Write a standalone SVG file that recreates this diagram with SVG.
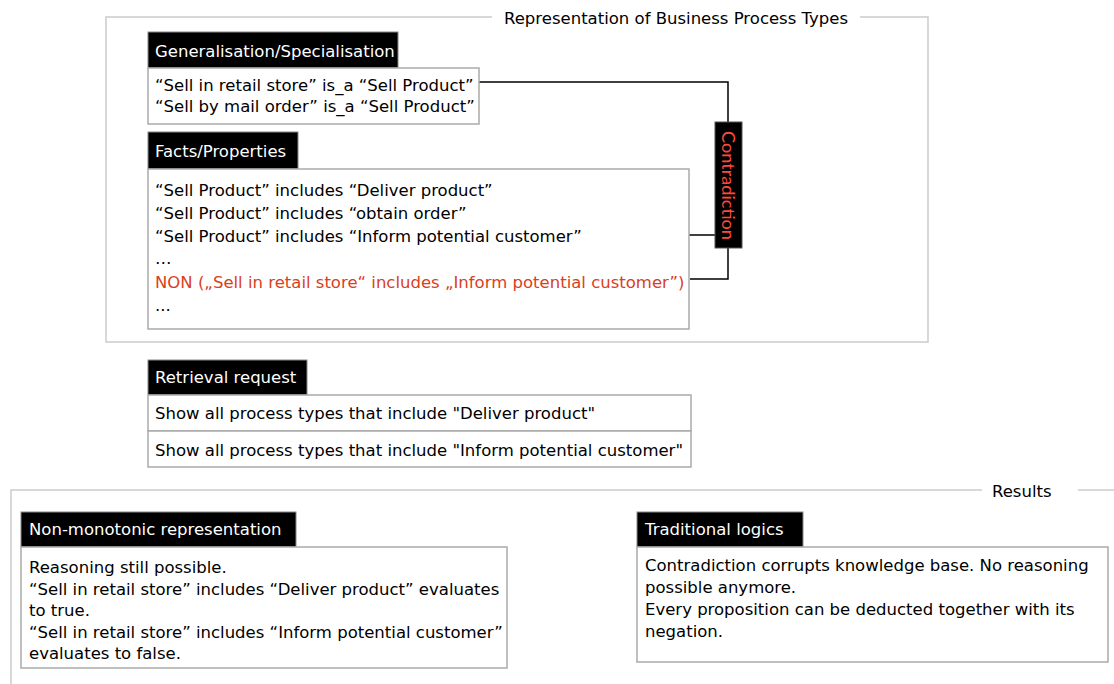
<svg xmlns="http://www.w3.org/2000/svg" width="1114" height="684" viewBox="0 0 1114 684">
<style>
text{font-family:"DejaVu Sans",Verdana,sans-serif;font-size:16.5px;fill:#000}
.frame{fill:none;stroke:#cccccc;stroke-width:1.5}
.hdr{fill:#000;stroke:#888;stroke-width:1}
.hdrt{fill:#fff}
.body{fill:#fff;stroke:#aaaaaa;stroke-width:1.5}
.con{fill:none;stroke:#000;stroke-width:1.5}
.red{fill:#d9401c}
</style>
<rect width="1114" height="684" fill="#fff"/>
<g id="frame-representation">
<polyline class="frame" points="492,17 106,17 106,342 928,342 928,17 860,17"/>
<text x="504" y="24">Representation of Business Process Types</text>
</g>
<g id="frame-results">
<polyline class="frame" points="982,490 11,490 11,684"/>
<line class="frame" x1="1078" y1="490" x2="1114" y2="490"/>
<text x="992" y="497">Results</text>
</g>
<g id="connectors">
<polyline class="con" points="479,82 728,82 728,122"/>
<line class="con" x1="591" y1="235" x2="715" y2="235"/>
<polyline class="con" points="690,279 728,279 728,248"/>
</g>
<g id="generalisation">
<rect class="hdr" x="148" y="32" width="250" height="36"/>
<text class="hdrt" x="155" y="57">Generalisation/Specialisation</text>
<rect class="body" x="148" y="68" width="331" height="56"/>
<text x="155" y="91">“Sell in retail store” is_a “Sell Product”</text>
<text x="155" y="112">“Sell by mail order” is_a “Sell Product”</text>
</g>
<g id="facts">
<rect class="hdr" x="148" y="132" width="150" height="37"/>
<text class="hdrt" x="155" y="157">Facts/Properties</text>
<rect class="body" x="148" y="169" width="541" height="160"/>
<text x="155" y="196">“Sell Product” includes “Deliver product”</text>
<text x="155" y="219">“Sell Product” includes “obtain order”</text>
<text x="155" y="242">“Sell Product” includes “Inform potential customer”</text>
<text x="155" y="264">…</text>
<text class="red" x="155" y="288">NON („Sell in retail store“ includes „Inform potential customer”)</text>
<text x="155" y="311">...</text>
</g>
<g id="contradiction">
<rect x="715" y="122" width="27" height="126" fill="#000" stroke="#555" stroke-width="1"/>
<text x="0" y="0" transform="translate(722,185.5) rotate(90)" text-anchor="middle" textLength="109" lengthAdjust="spacingAndGlyphs" style="fill:#ff4a3a;font-family:Lato,'Liberation Sans',sans-serif;font-size:17px">Contradiction</text>
</g>
<g id="retrieval">
<rect class="hdr" x="148" y="360" width="159" height="35"/>
<text class="hdrt" x="155" y="383">Retrieval request</text>
<rect class="body" x="148" y="395" width="543" height="36"/>
<text x="155" y="419">Show all process types that include "Deliver product"</text>
<rect class="body" x="148" y="431" width="543" height="36"/>
<text x="155" y="456">Show all process types that include "Inform potential customer"</text>
</g>
<g id="non-monotonic">
<rect class="hdr" x="21" y="512" width="275" height="35"/>
<text class="hdrt" x="29" y="535">Non-monotonic representation</text>
<rect class="body" x="21" y="547" width="486" height="121"/>
<text x="29" y="573">Reasoning still possible.</text>
<text x="29" y="595">“Sell in retail store” includes “Deliver product” evaluates</text>
<text x="29" y="616">to true.</text>
<text x="29" y="638">“Sell in retail store” includes “Inform potential customer”</text>
<text x="29" y="659">evaluates to false.</text>
</g>
<g id="traditional">
<rect class="hdr" x="637" y="512" width="166" height="35"/>
<text class="hdrt" x="645" y="535">Traditional logics</text>
<rect class="body" x="637" y="547" width="471" height="115"/>
<text x="645" y="571">Contradiction corrupts knowledge base. No reasoning</text>
<text x="645" y="593">possible anymore.</text>
<text x="645" y="615">Every proposition can be deducted together with its</text>
<text x="645" y="637">negation.</text>
</g>
</svg>
